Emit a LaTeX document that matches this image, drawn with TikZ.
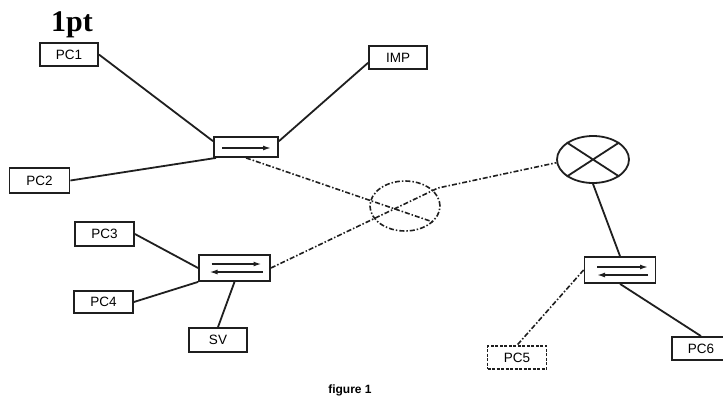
\documentclass[tikz,border=0pt]{standalone}
\usepackage{fontspec}
\setmainfont{Liberation Sans}
\newfontfamily\serifb{Liberation Serif}
\usetikzlibrary{shapes.geometric,arrows.meta}
\begin{document}
\begin{tikzpicture}[x=1pt,y=-1pt,
  ink/.style={draw=black!88, line width=1.8pt},
  pcbox/.style={ink, rectangle, minimum width=58pt, minimum height=23pt, inner sep=0pt, font=\fontsize{13.5}{13.5}\selectfont},
  swbox/.style={ink, rectangle, inner sep=0pt},
  link/.style={ink},
  dlink/.style={ink, line width=1.6pt, dash pattern=on 5pt off 2pt on 1.5pt off 2pt},
  sarrow/.style={draw=black!88, line width=1.5pt, -{Latex[length=8pt,width=5pt]}}
]
\useasboundingbox (0,0) rectangle (723,399);

% title
\node[anchor=base west, inner sep=0pt, font=\serifb\bfseries\fontsize{30}{30}\selectfont] (title) at (51,31) {1pt};

% end devices
\node[pcbox] (pc1) at (69,54.5) {PC1};
\node[pcbox] (imp) at (398,57.5) {IMP};
\node[pcbox, minimum width=60pt, minimum height=25pt] (pc2) at (39.5,180.5) {PC2};
\node[pcbox, minimum width=59pt, minimum height=24pt] (pc3) at (104.5,234) {PC3};
\node[pcbox, minimum width=59pt, minimum height=22pt] (pc4) at (103.5,302) {PC4};
\node[pcbox, minimum height=24pt] (sv) at (218,340) {SV};
\node[pcbox, minimum width=59pt, line width=1.5pt, dash pattern=on 3pt off 1.5pt] (pc5) at (517,357.5) {PC5};
\node[pcbox] (pc6) at (701,348.5) {PC6};

% switches
\node[swbox, minimum width=64pt, minimum height=20pt] (sw1) at (246,147) {};
\node[swbox, minimum width=71pt, minimum height=26pt] (sw2) at (234.5,268) {};
\node[swbox, minimum width=71pt, minimum height=26pt] (sw3) at (620,270) {};

% hub (dashed) and router
\node[ellipse, dlink, minimum width=70pt, minimum height=50pt, inner sep=0pt] (hub) at (405,206) {};
\node[ellipse, ink, minimum width=72pt, minimum height=47pt, inner sep=0pt] (rt) at (593,159.5) {};
\draw[ink] (rt.147) -- (rt.-33) (rt.33) -- (rt.-147);

\coordinate (hubA) at (438,188);
\coordinate (hubB) at (433,222);

% arrows inside switches
\draw[sarrow] ([xshift=-24pt,yshift=-1pt]sw1.center) -- ([xshift=25pt,yshift=-1pt]sw1.center);
\draw[sarrow] ([xshift=-23pt,yshift=4pt]sw2.center) -- ([xshift=27pt,yshift=4pt]sw2.center);
\draw[sarrow] ([xshift=28pt,yshift=-4pt]sw2.center) -- ([xshift=-25pt,yshift=-4pt]sw2.center);
\draw[sarrow] ([xshift=-23pt,yshift=3pt]sw3.center) -- ([xshift=28pt,yshift=3pt]sw3.center);
\draw[sarrow] ([xshift=28pt,yshift=-5pt]sw3.center) -- ([xshift=-23pt,yshift=-5pt]sw3.center);

% links
\draw[link] (pc1.east) -- (sw1.170);
\draw[link] (imp.190) -- (sw1.10);
\draw[link] (pc2.east) -- (sw1.200);
\draw[dlink] (sw1.south) -- (hubB);

\draw[link] (pc3.east) -- (sw2.west);
\draw[link] (pc4.east) -- (sw2.south west);
\draw[link] (sv.north) -- (sw2.south);
\draw[dlink] (sw2.east) -- (hubA) -- (rt.185);

\draw[link] (rt.-90) -- (sw3.north);
\draw[dlink] (sw3.west) -- (pc5.north);
\draw[link] (sw3.south) -- (pc6.north);

% caption
\node[font=\bfseries\fontsize{12}{12}\selectfont, inner sep=0pt] (cap) at (350,390) {figure 1};
\end{tikzpicture}
\end{document}
